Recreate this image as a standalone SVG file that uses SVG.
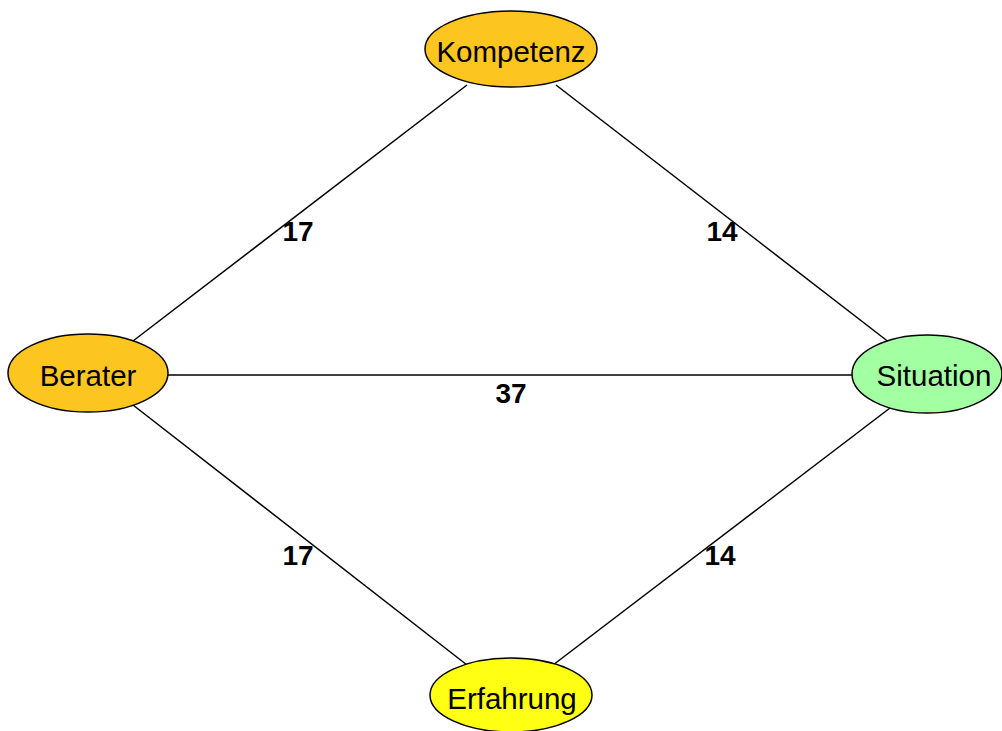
<svg xmlns="http://www.w3.org/2000/svg" width="1002" height="731" viewBox="0 0 1002 731">
  <style>
    .node ellipse { stroke: #000; stroke-width: 1.5; }
    .node text { font-family: "Liberation Sans", Arial, sans-serif; font-size: 29.5px; fill: #000; text-anchor: middle; }
    .edge line { stroke: #000; stroke-width: 1.5; }
    .weight { font-family: "Liberation Sans", Arial, sans-serif; font-size: 28px; font-weight: bold; fill: #000; text-anchor: middle; }
  </style>
  <rect width="1002" height="731" fill="#fff"/>

  <!-- connectors -->
  <g id="edges" class="edge">
    <line x1="467" y1="85" x2="133" y2="341"/>
    <line x1="556" y1="85" x2="890" y2="343"/>
    <line x1="168" y1="375" x2="852" y2="375"/>
    <line x1="133" y1="405" x2="467" y2="665"/>
    <line x1="890" y1="408" x2="553" y2="665"/>
    <text class="weight" x="298" y="241">17</text>
    <text class="weight" x="722" y="241">14</text>
    <text class="weight" x="511" y="403">37</text>
    <text class="weight" x="298" y="565">17</text>
    <text class="weight" x="720" y="565">14</text>
  </g>

  <g id="kompetenz" class="node">
    <ellipse cx="511" cy="49" rx="86" ry="38" fill="#fdc520"/>
    <text x="511" y="62">Kompetenz</text>
  </g>
  <g id="berater" class="node">
    <ellipse cx="88" cy="373" rx="80" ry="39" fill="#fdc520"/>
    <text x="88" y="386">Berater</text>
  </g>
  <g id="situation" class="node">
    <ellipse cx="927" cy="374" rx="75" ry="39" fill="#a2ffa2"/>
    <text x="934" y="386">Situation</text>
  </g>
  <g id="erfahrung" class="node">
    <ellipse cx="511" cy="695" rx="81" ry="37" fill="#ffff14"/>
    <text x="512" y="709">Erfahrung</text>
  </g>
</svg>
